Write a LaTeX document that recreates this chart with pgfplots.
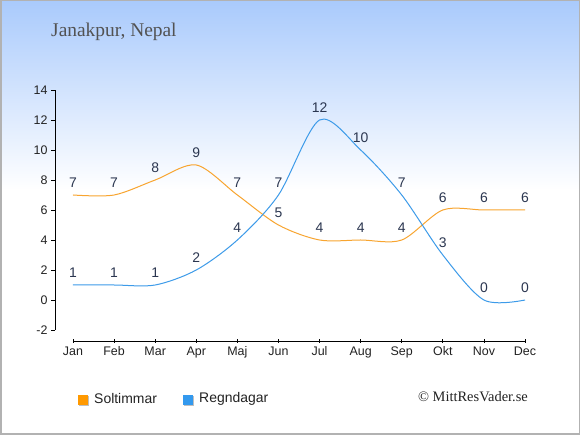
\documentclass[border=0pt]{standalone}
\usepackage{pgfplots}
\pgfplotsset{compat=1.18}
\usepackage{fontspec}
\setmainfont{Liberation Sans}
\newfontfamily\seriffont{Liberation Serif}
\definecolor{topblue}{HTML}{A9CAFC}
\definecolor{solline}{HTML}{F8A530}
\definecolor{regnline}{HTML}{3D9BE9}
\definecolor{solsq}{HTML}{FF9900}
\definecolor{regnsq}{HTML}{3399EE}
\definecolor{lblcol}{HTML}{2B3650}
\definecolor{tickcol}{HTML}{222222}
\begin{document}
\begin{tikzpicture}[x=1bp,y=1bp]
\fill[white] (0,0) rectangle (580,435);
\shade[top color=topblue, bottom color=white] (0,245) rectangle (580,435);
\draw[black!30, line width=1.5bp] (0.75,0.75) rectangle (579.25,434.25);
\node[anchor=west, text=black!68, font=\seriffont\fontsize{19.5}{19.5}\selectfont, inner sep=0] at (51,403) {Janakpur, Nepal};
\begin{axis}[
  at={(55bp,94bp)}, anchor=south west,
  scale only axis, width=470bp, height=251bp,
  xmin=-0.438, xmax=11, ymin=-2.733, ymax=14,
  axis x line*=bottom, axis y line*=left,
  axis line style={draw=none},
  clip=false,
  xtick={0,...,11},
  xticklabels={Jan,Feb,Mar,Apr,Maj,Jun,Jul,Aug,Sep,Okt,Nov,Dec},
  ytick={-2,0,...,14},
  major tick length=4bp,
  xtick align=center, ytick align=outside,
  major tick style={black, line width=0.8bp},
  tick label style={font=\fontsize{12.5}{13}\selectfont, text=tickcol},
  /pgf/number format/assume math mode=true,
  nodes near coords,
  every node near coord/.append style={font=\fontsize{14}{14}\selectfont, text=lblcol, yshift=3.3bp},
]
\draw[black, line width=0.8bp] (axis cs:-0.438,-2) -- (axis cs:-0.438,14);
\draw[black, line width=0.8bp] (axis cs:0,-2.733) -- (axis cs:11,-2.733);
\addplot[solline, line width=1bp, smooth, mark=none] coordinates {
(0,7)(1,7)(2,8)(3,9)(4,7)(5,5)(6,4)(7,4)(8,4)(9,6)(10,6)(11,6)};
\addplot[regnline, line width=1bp, smooth, mark=none] coordinates {
(0,1)(1,1)(2,1)(3,2)(4,4)(5,7)(6,12)(7,10)(8,7)(9,3)(10,0)(11,0)};
\end{axis}
\fill[black!25] (79,29) rectangle (89,39);
\fill[solsq] (78,30) rectangle (88,40);
\node[anchor=west, inner sep=0, text=tickcol, font=\fontsize{14}{14}\selectfont] at (94,36) {Soltimmar};
\fill[black!25] (184,29) rectangle (194,39);
\fill[regnsq] (183,30) rectangle (193,40);
\node[anchor=west, inner sep=0, text=tickcol, font=\fontsize{14}{14}\selectfont] at (199,36) {Regndagar};
\node[anchor=east, inner sep=0, text=tickcol, font=\seriffont\fontsize{14.5}{14.5}\selectfont] at (528,38) {© MittResVader.se};
\end{tikzpicture}
\end{document}
